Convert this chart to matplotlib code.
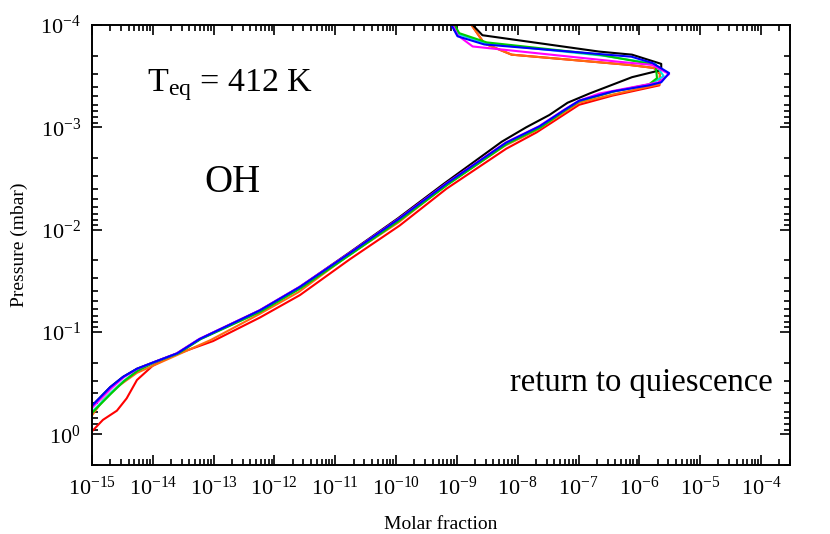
import numpy as np
import matplotlib
matplotlib.use('Agg')
import matplotlib.pyplot as plt
from matplotlib.ticker import LogLocator, FuncFormatter, NullFormatter

plt.rcParams['font.family'] = ['Liberation Serif', 'DejaVu Serif']
plt.rcParams['mathtext.fontset'] = 'custom'
plt.rcParams['mathtext.rm'] = 'Liberation Serif'
plt.rcParams['mathtext.it'] = 'Liberation Serif:italic'

# log10 of pressure (mbar) and molar fraction
logp_blue = [0.30, -0.29, -0.46, -0.56, -0.64, -0.70, -0.79, -0.93, -1.21, -1.44, -1.77, -2.11, -2.45,
             -2.85, -3.01, -3.17, -3.26, -3.35, -3.41, -3.44, -3.53, -3.63, -3.69, -3.81, -3.89, -4.00, -4.10]
logx_blue = [-15.90, -14.98, -14.70, -14.49, -14.26, -14.00, -13.60, -13.23, -12.24, -11.58, -10.76, -9.94, -9.17,
             -8.19, -7.64, -7.23, -6.99, -6.44, -5.84, -5.64, -5.51, -5.79, -6.13, -8.55, -8.99, -9.09, -9.15]

logp_magenta = [0.30, -0.27, -0.45, -0.56, -0.64, -0.70, -0.79, -0.93, -1.21, -1.44, -1.77, -2.11, -2.45,
                -2.85, -3.01, -3.17, -3.26, -3.33, -3.44, -3.52, -3.61, -3.64, -3.79, -3.90, -4.00, -4.10]
logx_magenta = [-15.85, -14.98, -14.68, -14.47, -14.25, -14.00, -13.61, -13.24, -12.25, -11.59, -10.77, -9.95, -9.18,
                -8.20, -7.65, -7.24, -6.99, -6.66, -5.68, -5.51, -5.79, -6.33, -8.74, -8.99, -9.07, -9.12]

logp_green = [0.30, -0.22, -0.40, -0.52, -0.62, -0.70, -0.79, -0.93, -1.20, -1.43, -1.76, -2.10, -2.44,
              -2.84, -3.00, -3.17, -3.26, -3.35, -3.42, -3.48, -3.61, -3.71, -3.83, -3.92, -4.00, -4.10]
logx_green = [-15.75, -14.98, -14.68, -14.47, -14.25, -13.98, -13.58, -13.21, -12.22, -11.56, -10.74, -9.92, -9.15,
              -8.17, -7.62, -7.21, -6.97, -6.42, -5.84, -5.71, -5.73, -6.66, -8.51, -8.96, -9.04, -9.09]

logp_cyan = [0.30, -0.23, -0.40, -0.52, -0.62, -0.70, -0.79, -0.93, -1.20, -1.43, -1.76, -2.10, -2.44,
             -2.84, -3.00, -3.17, -3.26, -3.35, -3.42, -3.50, -3.62, -3.70, -3.82, -3.91, -4.00, -4.10]
logx_cyan = [-15.70, -14.98, -14.70, -14.48, -14.26, -13.99, -13.59, -13.22, -12.23, -11.57, -10.75, -9.93, -9.16,
             -8.18, -7.63, -7.22, -6.98, -6.43, -5.82, -5.60, -5.74, -6.60, -8.52, -8.97, -9.05, -9.10]

logp_black = [0.30, -0.29, -0.46, -0.56, -0.64, -0.70, -0.79, -0.93, -1.21, -1.44, -1.77, -2.11, -2.45,
              -2.86, -3.00, -3.12, -3.24, -3.33, -3.49, -3.56, -3.62, -3.71, -3.74, -3.90, -4.00, -4.10]
logx_black = [-15.90, -14.98, -14.70, -14.49, -14.26, -14.00, -13.60, -13.23, -12.24, -11.58, -10.78, -9.97, -9.21,
              -8.26, -7.86, -7.48, -7.18, -6.82, -6.12, -5.64, -5.64, -6.12, -6.66, -8.58, -8.74, -8.83]

logp_orange = [0.30, -0.20, -0.33, -0.46, -0.60, -0.70, -0.92, -1.17, -1.39, -1.75, -2.07, -2.43,
               -2.82, -2.97, -3.24, -3.32, -3.42, -3.53, -3.58, -3.61, -3.71, -3.82, -4.00, -4.10]
logx_orange = [-15.57, -14.98, -14.82, -14.59, -14.26, -13.88, -13.05, -12.26, -11.60, -10.78, -9.96, -9.19,
               -8.21, -7.69, -6.99, -6.44, -5.67, -5.66, -5.76, -6.17, -8.10, -8.55, -8.76, -8.83]

logp_red = [0.30, -0.04, -0.14, -0.23, -0.35, -0.53, -0.67, -0.77, -0.91, -1.14, -1.36, -1.71, -2.04, -2.40,
            -2.79, -2.95, -3.22, -3.31, -3.41, -3.52, -3.58, -3.61, -3.71, -3.82, -4.00, -4.10]
logx_red = [-15.56, -14.98, -14.82, -14.59, -14.43, -14.26, -14.00, -13.67, -13.01, -12.24, -11.58, -10.76, -9.94, -9.17,
            -8.19, -7.69, -6.99, -6.44, -5.67, -5.66, -5.76, -6.17, -8.10, -8.55, -8.76, -8.83]

curves = [
    (logx_red, logp_red, '#ff0000'),
    (logx_orange, logp_orange, '#ff6a10'),
    (logx_black, logp_black, '#000000'),
    (logx_cyan, logp_cyan, '#00e0e0'),
    (logx_green, logp_green, '#00cc00'),
    (logx_magenta, logp_magenta, '#ff00ff'),
    (logx_blue, logp_blue, '#0000ff'),
]

fig = plt.figure(figsize=(8.3, 5.34), dpi=100)
ax = fig.add_axes([0.1108, 0.1292, 0.841, 0.824])

for lx, lp, col in curves:
    ax.plot(10.0 ** np.array(lx), 10.0 ** np.array(lp), color=col, lw=1.5)

ax.set_xscale('log')
ax.set_yscale('log')
ax.set_xlim(1e-15, 3e-4)
ax.set_ylim(2.0, 1e-4)

ax.set_xticks(10.0 ** np.arange(-15, -3))
ax.set_yticks(10.0 ** np.arange(-4, 1))
ax.xaxis.set_minor_locator(LogLocator(base=10, subs=np.arange(2, 10), numticks=100))
ax.yaxis.set_minor_locator(LogLocator(base=10, subs=np.arange(2, 10), numticks=100))
fmt = FuncFormatter(lambda v, pos: r'$\mathregular{10^{%d}}$' % int(round(np.log10(v))))
ax.xaxis.set_major_formatter(fmt)
ax.yaxis.set_major_formatter(fmt)
ax.xaxis.set_minor_formatter(NullFormatter())
ax.yaxis.set_minor_formatter(NullFormatter())

ax.tick_params(which='both', direction='in', top=True, right=True, width=1.2)
ax.tick_params(which='major', length=7, labelsize=16, pad=8)
ax.tick_params(which='minor', length=4)
for s in ax.spines.values():
    s.set_linewidth(1.4)

ax.set_xlabel('Molar fraction', fontsize=14, labelpad=12)
ax.set_ylabel('Pressure (mbar)', fontsize=14, labelpad=9)

ax.text(0.198, 0.864, r'T$_{\mathregular{eq}}$ = 412 K', transform=ax.transAxes,
        fontsize=24.5, ha='center', va='center')
ax.text(0.2006, 0.641, 'OH', transform=ax.transAxes, fontsize=28, ha='center', va='center')
ax.text(0.976, 0.186, 'return to quiescence', transform=ax.transAxes,
        fontsize=23.5, ha='right', va='center')

plt.savefig('out.png')
